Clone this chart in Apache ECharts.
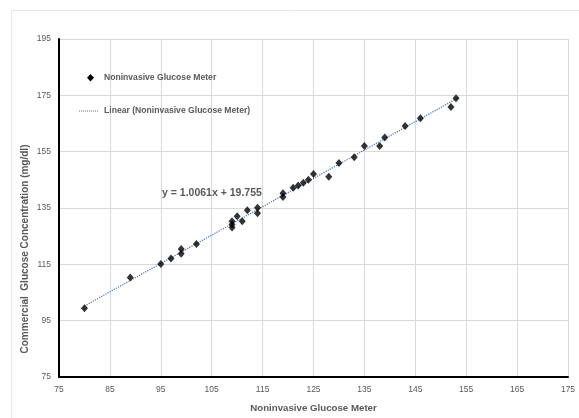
<!DOCTYPE html>
<html>
<head>
<meta charset="utf-8">
<script src="https://cdn.jsdelivr.net/npm/echarts@6/dist/echarts.min.js"></script>
<style>
html,body{margin:0;padding:0;background:#fff;}
#chart{width:579px;height:418px;}
</style>
</head>
<body>
<div id="chart"></div>
<script>
// Data
var meterValues = [80, 89, 95, 97, 99, 99, 102, 109, 109, 109, 110, 111, 112, 114, 114, 119, 119, 121, 122, 123, 124, 125, 128, 130, 133, 135, 138, 139, 143, 146, 152, 153];
var commercialValues = [99.4, 110.3, 115.1, 117.1, 120.4, 118.8, 122.2, 130.3, 129.1, 128.1, 132.1, 130.3, 134.2, 135.1, 133.1, 140.2, 138.9, 142.2, 143.0, 144.0, 145.0, 147.1, 146.1, 151.0, 153.0, 157.0, 157.0, 160.0, 164.1, 166.9, 170.9, 174.0];
var trendX = [80, 153.5];
var trendY = [100.2, 174.2];
var xTicks = [75, 85, 95, 105, 115, 125, 135, 145, 155, 165, 175];
var yTicks = [75, 95, 115, 135, 155, 175, 195];
var seriesName = 'Noninvasive Glucose Meter';
var trendName = 'Linear (Noninvasive Glucose Meter)';
var equationText = 'y = 1.0061x + 19.755';
var xTitle = 'Noninvasive Glucose Meter';
var yTitle = 'Commercial  Glucose Concentration (mg/dl)';

var pts = meterValues.map(function (v, i) { return [v, commercialValues[i]]; });
var trend = trendX.map(function (v, i) { return [v, trendY[i]]; });

var FONT = '"Liberation Sans", Arial, sans-serif';
var GRAY = '#595959';

var chart = echarts.init(document.getElementById('chart'), null, {renderer: 'canvas'});
chart.setOption({
  backgroundColor: '#fff',
  animation: false,
  textStyle: {fontFamily: FONT},
  grid: {left: 59, right: 11, top: 39, bottom: 36, containLabel: false},
  xAxis: {
    type: 'value', min: xTicks[0], max: xTicks[xTicks.length - 1], interval: xTicks[1] - xTicks[0],
    axisLine: {show: true, onZero: false, lineStyle: {color: '#000', width: 2}},
    axisTick: {show: false},
    splitLine: {show: true, lineStyle: {color: '#d9d9d9', width: 1}},
    axisLabel: {color: GRAY, fontSize: 8.5, fontFamily: FONT, margin: 8},
    name: xTitle, nameLocation: 'middle', nameGap: 26,
    nameTextStyle: {color: GRAY, fontSize: 9.7, fontWeight: 'bold', fontFamily: FONT}
  },
  yAxis: {
    type: 'value', min: yTicks[0], max: yTicks[yTicks.length - 1], interval: yTicks[1] - yTicks[0],
    axisLine: {show: true, onZero: false, lineStyle: {color: '#000', width: 2}},
    axisTick: {show: false},
    splitLine: {show: true, lineStyle: {color: '#d9d9d9', width: 1}},
    axisLabel: {color: GRAY, fontSize: 8.5, fontFamily: FONT, margin: 8}
  },
  series: [
    {
      name: trendName, type: 'line', data: trend, symbol: 'none', z: 1,
      lineStyle: {color: '#4472c4', width: 1.2, type: 'dotted'},
      itemStyle: {color: '#4472c4'}
    },
    {
      name: seriesName, type: 'scatter', data: pts, symbol: 'diamond', symbolSize: [7, 8], z: 3,
      itemStyle: {color: '#000'}
    }
  ],
  graphic: [
    {type: 'rect', left: 9, top: 8, z: -10, silent: true,
      shape: {width: 580, height: 420}, style: {fill: 'none', stroke: '#e6e6e6', lineWidth: 1}},
    // legend: scatter entry
    {type: 'polygon', z: 10, silent: true,
      shape: {points: [[90.5, 74], [94, 77.7], [90.5, 81.4], [87, 77.7]]}, style: {fill: '#000'}},
    {type: 'text', x: 104, y: 77.7, z: 10,
      style: {text: seriesName, fill: GRAY, font: 'bold 8.6px ' + FONT, textVerticalAlign: 'middle'}},
    // legend: trendline entry
    {type: 'line', z: 10, silent: true,
      shape: {x1: 79, y1: 111, x2: 99, y2: 111}, style: {stroke: '#4472c4', lineWidth: 1, lineDash: [1, 1]}},
    {type: 'text', x: 104, y: 111, z: 10,
      style: {text: trendName, fill: GRAY, font: 'bold 8.6px ' + FONT, textVerticalAlign: 'middle'}},
    {type: 'text', x: 162, y: 193, z: 10,
      style: {text: equationText, fill: GRAY, font: 'bold 10.5px ' + FONT, textVerticalAlign: 'middle'}},
    {type: 'text', x: 25, y: 249, rotation: Math.PI / 2, z: 10,
      style: {text: yTitle, fill: GRAY, font: 'bold 10px ' + FONT, textAlign: 'center', textVerticalAlign: 'middle'}}
  ]
});
</script>
</body>
</html>
